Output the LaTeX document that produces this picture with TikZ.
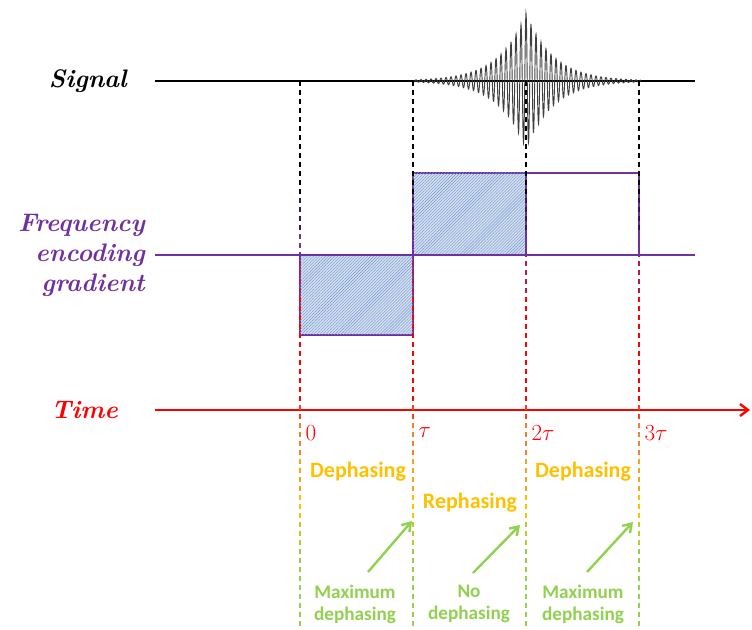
\documentclass[tikz,border=0pt]{standalone}
\usepackage{fontspec}
\usepackage{amsmath}
\usepackage{tikz}
\usetikzlibrary{positioning, arrows.meta, patterns.meta}
\newfontfamily\notefont{Carlito}
\definecolor{fePurple}{RGB}{112, 48, 160}
\definecolor{feRed}{RGB}{255, 0, 0}
\definecolor{feOrange}{RGB}{240, 130, 50}
\definecolor{feYellow}{RGB}{255, 192, 0}
\definecolor{feGreen}{RGB}{146, 208, 80}
\definecolor{feHatch}{RGB}{110, 145, 205}
\definecolor{feFill}{RGB}{212, 224, 240}
\tikzset{
    axislabel/.style={
        font=\fontsize{19}{22.5}\selectfont\bfseries\itshape\addfontfeatures{LetterSpace=9},
        align=right,
        anchor=east,
        inner sep=0pt
    },
    ticklabel/.style={
        font=\fontsize{17}{18}\selectfont,
        text=feRed,
        anchor=west,
        inner sep=1pt
    },
    phase/.style={
        font=\notefont\fontsize{16.5}{18}\selectfont\bfseries,
        text=feYellow
    },
    note/.style={
        font=\notefont\fontsize{14.4}{16.5}\selectfont\bfseries,
        text=feGreen,
        align=center
    },
    trace/.style={
        line width=1.8pt
    },
    lobe/.style={
        draw=fePurple,
        line width=1.8pt,
        fill=feFill,
        postaction={pattern={Lines[angle=45, distance=1.6pt, line width=0.3pt]}, pattern color=feHatch}
    },
    guide/.style={
        dash pattern=on 3.75pt off 3pt,
        line width=1.3pt
    },
    flow/.style={
        -{Straight Barb[length=6pt, width=8pt]},
        line width=1.8pt,
        color=feGreen
    }
}

\begin{document}
\begin{tikzpicture}[x=0.75pt, y=-0.75pt]
  \useasboundingbox (0,0) rectangle (752,630);

  % Gradient lobes
  \draw[lobe] (300,255) rectangle (413,335);
  \draw[lobe] (413,173) rectangle (526,255);
  \draw[trace, fePurple] (526,173) rectangle (639,255);

  % Traces
  \draw[trace] (155,81) -- (695,81);
  \draw[trace, fePurple] (155,255) -- (695,255);
  \coordinate (tstart) at (155,410);
  \coordinate (tend) at (750,410);
  \draw[trace, feRed, -{Straight Barb[length=6pt, width=9pt]}] (tstart) -- (tend);

  % Echo
  \draw[black!75, line width=0.7pt] plot[domain=413:641, samples=1200]
    (\x, {81 - 68*exp(-abs(\x-526)/27)*cos(72*(\x-526))});

  % Guides
  \foreach \x in {300, 413, 526, 639} {
    \foreach \ya/\yb/\c in {81/198/black, 198/234/black!50!fePurple, 234/261/fePurple,
                            261/297/fePurple!50!feRed, 297/405/feRed, 405/423/feRed!50!feOrange,
                            423/459/feOrange, 459/495/feOrange!45!feYellow, 495/522/feYellow,
                            522/549/feYellow!40!feGreen, 549/630/feGreen}
      \draw[guide, \c] (\x,\ya) -- (\x,\yb);
  }

  % Row labels
  \node[axislabel] (sig) at (127,81) {Signal};
  \node[axislabel, text=fePurple] (grad) at (145,255) {Frequency\\encoding\\gradient};
  \node[axislabel, text=feRed] (time) at (118,410) {Time};

  % Times
  \node[ticklabel] (l0) at (304,433) {$0$};
  \node[ticklabel] (l1) at (417,433) {$\tau$};
  \node[ticklabel] (l2) at (530,433) {$2\tau$};
  \node[ticklabel] (l3) at (643,433) {$3\tau$};

  % Phases
  \node[phase] (dph1) at (358,472) {Dephasing};
  \node[phase] (rph) at (470,503) {Rephasing};
  \node[phase] (dph2) at (583,472) {Dephasing};

  % Notes
  \node[note] (max1) at (355,604) {Maximum\\dephasing};
  \node[note] (nod) at (469,604) {No\\dephasing};
  \node[note] (max2) at (583,604) {Maximum\\dephasing};

  \coordinate (a1s) at (368,572);
  \coordinate (a1e) at (412,521);
  \coordinate (a2s) at (473,573);
  \coordinate (a2e) at (520,525);
  \coordinate (a3s) at (587,572);
  \coordinate (a3e) at (633,522);
  \draw[flow] (a1s) -- (a1e);
  \draw[flow] (a2s) -- (a2e);
  \draw[flow] (a3s) -- (a3e);

\end{tikzpicture}
\end{document}
